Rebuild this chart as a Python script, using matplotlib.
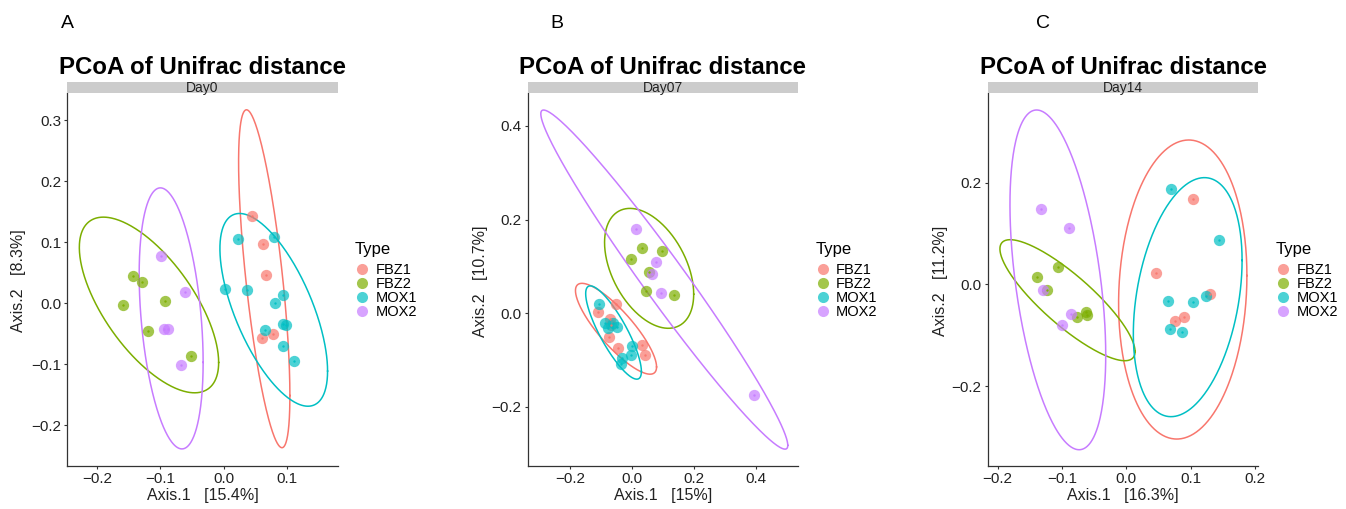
import numpy as np
import matplotlib
matplotlib.use("Agg")
import matplotlib.pyplot as plt
from matplotlib.lines import Line2D

plt.rcParams['font.family'] = ['Liberation Sans', 'DejaVu Sans']

W, H = 1346, 509

groups = ["FBZ1", "FBZ2", "MOX1", "MOX2"]
colors = ["#F8766D", "#7CAE00", "#00BFC4", "#C77CFF"]

# Day0 coordinates (Axis.1, Axis.2)
day0_fbz1 = [(0.045, 0.143), (0.062, 0.097), (0.067, 0.046), (0.061, -0.057), (0.078, -0.050)]
day0_fbz2 = [(-0.143, 0.044), (-0.129, 0.034), (-0.159, -0.003), (-0.092, 0.003),
             (-0.119, -0.045), (-0.051, -0.086)]
day0_mox1 = [(0.023, 0.105), (0.079, 0.109), (0.002, 0.023), (0.036, 0.021), (0.094, 0.013),
             (0.081, 0.001), (0.094, -0.034), (0.098, -0.036), (0.065, -0.044),
             (0.093, -0.071), (0.111, -0.095)]
day0_mox2 = [(-0.099, 0.078), (-0.061, 0.019), (-0.095, -0.043), (-0.088, -0.043), (-0.068, -0.101)]

# Day07
day7_fbz1 = [(-0.052, 0.020), (-0.108, 0.003), (-0.070, -0.013), (-0.075, -0.050),
             (-0.043, -0.075), (0.032, -0.068), (0.043, -0.090), (-0.068, -0.025)]
day7_fbz2 = [(-0.004, 0.117), (0.032, 0.139), (0.098, 0.134), (0.055, 0.089),
             (0.047, 0.048), (0.137, 0.039)]
day7_mox1 = [(-0.105, 0.020), (-0.086, -0.021), (-0.060, -0.021), (-0.047, -0.029),
             (-0.076, -0.031), (0.000, -0.070), (-0.003, -0.090), (-0.032, -0.096),
             (-0.035, -0.109)]
day7_mox2 = [(0.014, 0.179), (0.077, 0.110), (0.065, 0.083), (0.095, 0.043), (0.395, -0.175)]

# Day14
day14_fbz1 = [(0.103, 0.168), (0.046, 0.023), (0.130, -0.019), (0.076, -0.071), (0.089, -0.065)]
day14_fbz2 = [(-0.139, 0.014), (-0.106, 0.034), (-0.124, -0.010), (-0.077, -0.064),
              (-0.062, -0.054), (-0.061, -0.060)]
day14_mox1 = [(0.069, 0.188), (0.144, 0.087), (0.065, -0.033), (0.103, -0.035),
              (0.123, -0.023), (0.068, -0.088), (0.087, -0.094)]
day14_mox2 = [(-0.133, 0.148), (-0.089, 0.110), (-0.130, -0.010), (-0.086, -0.059), (-0.100, -0.080)]

# ellipses: centre x, centre y, half width, half height, x offset of top point
day0_ell = [(0.064, 0.040, 0.0405, 0.277, -0.028), (-0.118, -0.003, 0.110, 0.144, -0.072),
            (0.079, -0.011, 0.085, 0.158, -0.054), (-0.083, -0.025, 0.0505, 0.214, -0.017)]
day7_ell = [(-0.051, -0.033, 0.131, 0.097, -0.110), (0.056, 0.096, 0.144, 0.128, -0.062),
            (-0.059, -0.041, 0.090, 0.0996, -0.075), (0.105, 0.072, 0.399, 0.362, -0.390)]
day14_ell = [(0.0876, -0.010, 0.0997, 0.294, 0.0093), (-0.0915, -0.031, 0.105, 0.119, -0.089),
             (0.0953, -0.025, 0.0845, 0.235, 0.026), (-0.1065, 0.009, 0.0744, 0.334, -0.033)]

panels = [
    dict(letter="A", day="Day0", pts=[day0_fbz1, day0_fbz2, day0_mox1, day0_mox2], ell=day0_ell,
         xlab="Axis.1   [15.4%]", ylab="Axis.2   [8.3%]", xlim=(-0.247, 0.180), ylim=(-0.267, 0.345),
         xt=[-0.2, -0.1, 0.0, 0.1], yt=[-0.2, -0.1, 0.0, 0.1, 0.2, 0.3],
         px=(67.3, 337.7), letx=61, ylx=19, legx=355),
    dict(letter="B", day="Day07", pts=[day7_fbz1, day7_fbz2, day7_mox1, day7_mox2], ell=day7_ell,
         xlab="Axis.1   [15%]", ylab="Axis.2   [10.7%]", xlim=(-0.337, 0.538), ylim=(-0.326, 0.471),
         xt=[-0.2, 0.0, 0.2, 0.4], yt=[-0.2, 0.0, 0.2, 0.4],
         px=(527.5, 798.3), letx=550, ylx=481, legx=815.5),
    dict(letter="C", day="Day14", pts=[day14_fbz1, day14_fbz2, day14_mox1, day14_mox2], ell=day14_ell,
         xlab="Axis.1   [16.3%]", ylab="Axis.2   [11.2%]", xlim=(-0.2155, 0.205), ylim=(-0.357, 0.377),
         xt=[-0.2, -0.1, 0.0, 0.1, 0.2], yt=[-0.2, 0.0, 0.2],
         px=(987.7, 1258.3), letx=1036, ylx=941, legx=1276),
]

fig = plt.figure(figsize=(W / 100, H / 100), dpi=100)
ax_top, ax_bot = 92.7, 466.0
strip_top = 81.7

t = np.linspace(0, 2 * np.pi, 400)
for p in panels:
    x0, x1 = p["px"]
    ax = fig.add_axes([x0 / W, 1 - ax_bot / H, (x1 - x0) / W, (ax_bot - ax_top) / H])
    for (cx, cy, hx, hy, dxt), c in zip(p["ell"], colors):
        S = np.array([[hx ** 2, dxt * hy], [dxt * hy, hy ** 2]])
        L = np.linalg.cholesky(S)
        e = L @ np.vstack([np.cos(t), np.sin(t)])
        ax.plot(cx + e[0], cy + e[1], color=c, lw=1.1, zorder=2, clip_on=False)
    for pts, c in zip(p["pts"], colors):
        a = np.array(pts)
        ax.scatter(a[:, 0], a[:, 1], s=66, color=c, alpha=0.7, lw=0, zorder=3)
        ax.scatter(a[:, 0], a[:, 1], s=3, color=c, alpha=0.9, lw=0, zorder=4)
    ax.set_xlim(p["xlim"])
    ax.set_ylim(p["ylim"])
    ax.set_xticks(p["xt"])
    ax.set_yticks(p["yt"])
    ax.set_xticklabels([f"{v:.1f}".replace("-", "\u2212") for v in p["xt"]])
    ax.set_yticklabels([f"{v:.1f}".replace("-", "\u2212") for v in p["yt"]])
    for s in ["top", "right"]:
        ax.spines[s].set_visible(False)
    for s in ["left", "bottom"]:
        ax.spines[s].set_color("#333333")
        ax.spines[s].set_linewidth(0.9)
    ax.tick_params(length=2.5, width=0.8, color="#333333", labelsize=11, labelcolor="#222222", pad=2)
    ax.set_xlabel(p["xlab"], fontsize=11.5, color="#222222", labelpad=1)
    fig.text(p["ylx"] / W, 1 - 281 / H, p["ylab"], rotation=90, fontsize=11.5, color="#222222",
             ha="center", va="center")

    # facet strip
    sax = fig.add_axes([x0 / W, 1 - ax_top / H, (x1 - x0) / W, (ax_top - strip_top) / H])
    sax.set_facecolor("#CCCCCC")
    sax.set_xticks([])
    sax.set_yticks([])
    for s in sax.spines.values():
        s.set_visible(False)
    sax.text(0.5, 0.42, p["day"], ha="center", va="center", fontsize=10, color="#222222",
             transform=sax.transAxes)

    fig.text((x0 + x1) / 2 / W, 1 - 74 / H, "PCoA of Unifrac distance", ha="center", va="baseline",
             fontsize=17.3, fontweight="bold")
    fig.text(p["letx"] / W, 1 - 28.3 / H, p["letter"], ha="left", va="baseline", fontsize=14)

    handles = [Line2D([], [], marker="o", ls="", ms=8, color=c, alpha=0.7, mew=0) for c in colors]
    leg = fig.legend(handles, groups, title="Type", loc="upper left",
                     bbox_to_anchor=(p["legx"] / W, 1 - 242 / H), frameon=False, fontsize=10.5,
                     title_fontsize=12, handletextpad=0.4, labelspacing=0.0, borderpad=0,
                     handlelength=1.0, borderaxespad=0, handleheight=0.6)
    leg._legend_box.align = "left"
    leg._legend_box.sep = 4

fig.savefig("out.png", dpi=100)
